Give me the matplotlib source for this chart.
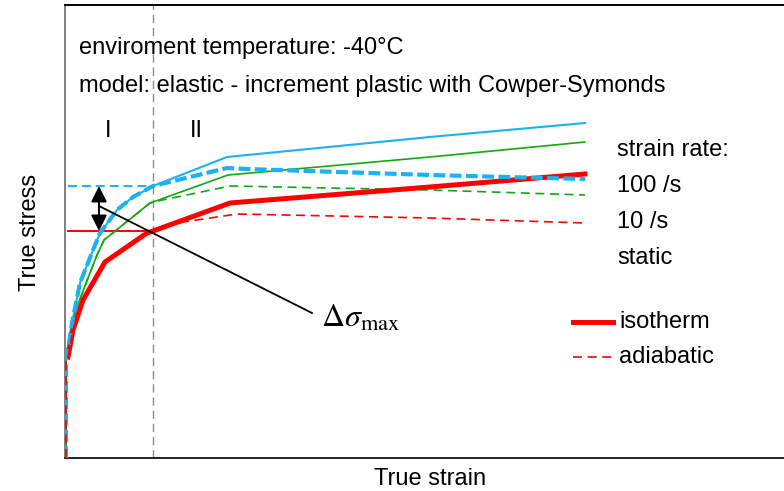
import matplotlib
matplotlib.use("Agg")
import matplotlib.pyplot as plt

plt.rcParams['font.family'] = ['Liberation Sans', 'DejaVu Sans']
plt.rcParams['mathtext.fontset'] = 'stix'
plt.rcParams['lines.scale_dashes'] = False

# ---------------- data (arbitrary units) ----------------
# isotherm / adiabatic curves for three strain rates
iso_100_strain = [0, 0, .002, .006, .014, .027, .034, .051, .067, .087, .161, .364, .519]
iso_100_stress = [0, 101, 108, 135, 175, 208, 225, 248, 261, 272, 301, 321, 335]
adi_100_strain = [0, 0, .002, .006, .014, .027, .034, .051, .067, .087, .161, .181, .364, .519]
adi_100_stress = [0, 101, 108, 135, 175, 208, 225, 248, 261, 272, 290, 289, 283, 279]

iso_10_strain = [0, 0, .004, .011, .022, .031, .038, .084, .087, .162, .364, .519]
iso_10_stress = [0, 101, 125, 151, 180, 203, 218, 255, 256, 283, 301, 316]
adi_10_strain = [0, 0, .004, .011, .022, .031, .038, .084, .087, .164, .364, .519]
adi_10_stress = [0, 101, 125, 151, 180, 203, 218, 255, 256, 272, 268, 263]

iso_st_strain = [.002, .007, .017, .039, .081, .087, .164, .364, .519]
iso_st_stress = [101, 128, 158, 196, 225, 227, 255, 271, 284]
adi_st_strain = [0, 0, .002, .007, .017, .039, .081, .087, .117, .171, .364, .519]
adi_st_stress = [0, 101, 101, 128, 158, 196, 225, 227, 236, 244, 240, 235]

boundary_strain = 0.087          # border between region I and II
ref_start_strain = 0.002
ref_stress_100 = 272             # adiabatic 100/s at boundary
ref_stress_static = 227          # isotherm static at boundary
arrow_strain = 0.033
leader_start = (0.033, 252)
leader_end = (0.246, 145)

BLUE = '#1AB2F0'
GREEN = '#12A812'
RED = '#FF0000'
FS = 17

W, H = 784, 491
fig = plt.figure(figsize=(W / 100, H / 100), dpi=100)
ax = fig.add_axes([65 / W, (H - 458) / H, 719 / W, 453 / H])
ax.set_xlim(-0.001, 0.718)
ax.set_ylim(0, 453)
ax.set_xticks([])
ax.set_yticks([])
ax.spines['right'].set_visible(False)
ax.spines['left'].set_color('#808080')
ax.spines['left'].set_linewidth(1.4)
ax.spines['top'].set_color('black')
ax.spines['top'].set_linewidth(1.4)
ax.spines['bottom'].set_color('#222222')
ax.spines['bottom'].set_linewidth(1.4)

# region boundary
ax.axvline(boundary_strain, color='#8C8C8C', lw=1.0, dashes=(6, 3.5), zorder=1)

# curves
ax.plot(iso_100_strain, iso_100_stress, color=BLUE, lw=1.5, zorder=3)
ax.plot(adi_100_strain, adi_100_stress, color=BLUE, lw=3.0, dashes=(8.5, 3.2), zorder=4)
ax.plot(iso_10_strain, iso_10_stress, color=GREEN, lw=1.2, zorder=3)
ax.plot(adi_10_strain, adi_10_stress, color=GREEN, lw=1.2, dashes=(6.5, 4), zorder=3)
ax.plot(iso_st_strain, iso_st_stress, color=RED, lw=3.6, zorder=3)
ax.plot(adi_st_strain, adi_st_stress, color=RED, lw=1.2, dashes=(6.5, 4), zorder=5)

# reference lines
ax.plot([ref_start_strain, boundary_strain], [ref_stress_100, ref_stress_100],
        color=BLUE, lw=1.4, dashes=(6.5, 3.5), zorder=2)
ax.plot([ref_start_strain, boundary_strain], [ref_stress_static, ref_stress_static],
        color=RED, lw=1.4, zorder=2)

# delta sigma arrow
ax.annotate('', xy=(arrow_strain, ref_stress_100), xytext=(arrow_strain, ref_stress_static),
            arrowprops=dict(arrowstyle='<|-|>', color='black', lw=1.4,
                            mutation_scale=24, shrinkA=0, shrinkB=0), zorder=6)
ax.plot([leader_start[0], leader_end[0]], [leader_start[1], leader_end[1]],
        color='black', lw=1.3, zorder=6)


def ftext(x, y, s, **kw):
    fig.text(x / W, 1 - y / H, s, **kw)


ftext(79, 48, 'enviroment temperature: -40°C', fontsize=FS, va='center')
ftext(79, 86, 'model: elastic - increment plastic with Cowper-Symonds', fontsize=FS, va='center')
ftext(108, 131, 'I', fontsize=FS, va='center', ha='center')
ftext(196, 131, 'II', fontsize=FS, va='center', ha='center')
ftext(617, 150, 'strain rate:', fontsize=FS, va='center')
ftext(617, 186, '100 /s', fontsize=FS, va='center')
ftext(617, 222, '10 /s', fontsize=FS, va='center')
ftext(617, 258, 'static', fontsize=FS, va='center')
ftext(321, 327, r'$\Delta\sigma_{\mathrm{max}}$', fontsize=23, va='baseline')

# legend
fig.add_artist(plt.Line2D([573 / W, 613 / W], [1 - 322 / H, 1 - 322 / H], color=RED, lw=3.6))
fig.add_artist(plt.Line2D([573 / W, 613 / W], [1 - 357 / H, 1 - 357 / H], color=RED, lw=1.2,
                          dashes=(6.5, 4)))
ftext(619, 322, 'isotherm', fontsize=FS, va='center')
ftext(619, 357, 'adiabatic', fontsize=FS, va='center')

ftext(30, 232, 'True stress', fontsize=FS, va='center', ha='center', rotation=90)
ftext(430, 479, 'True strain', fontsize=FS, va='center', ha='center')

fig.savefig('out.png', dpi=100)
